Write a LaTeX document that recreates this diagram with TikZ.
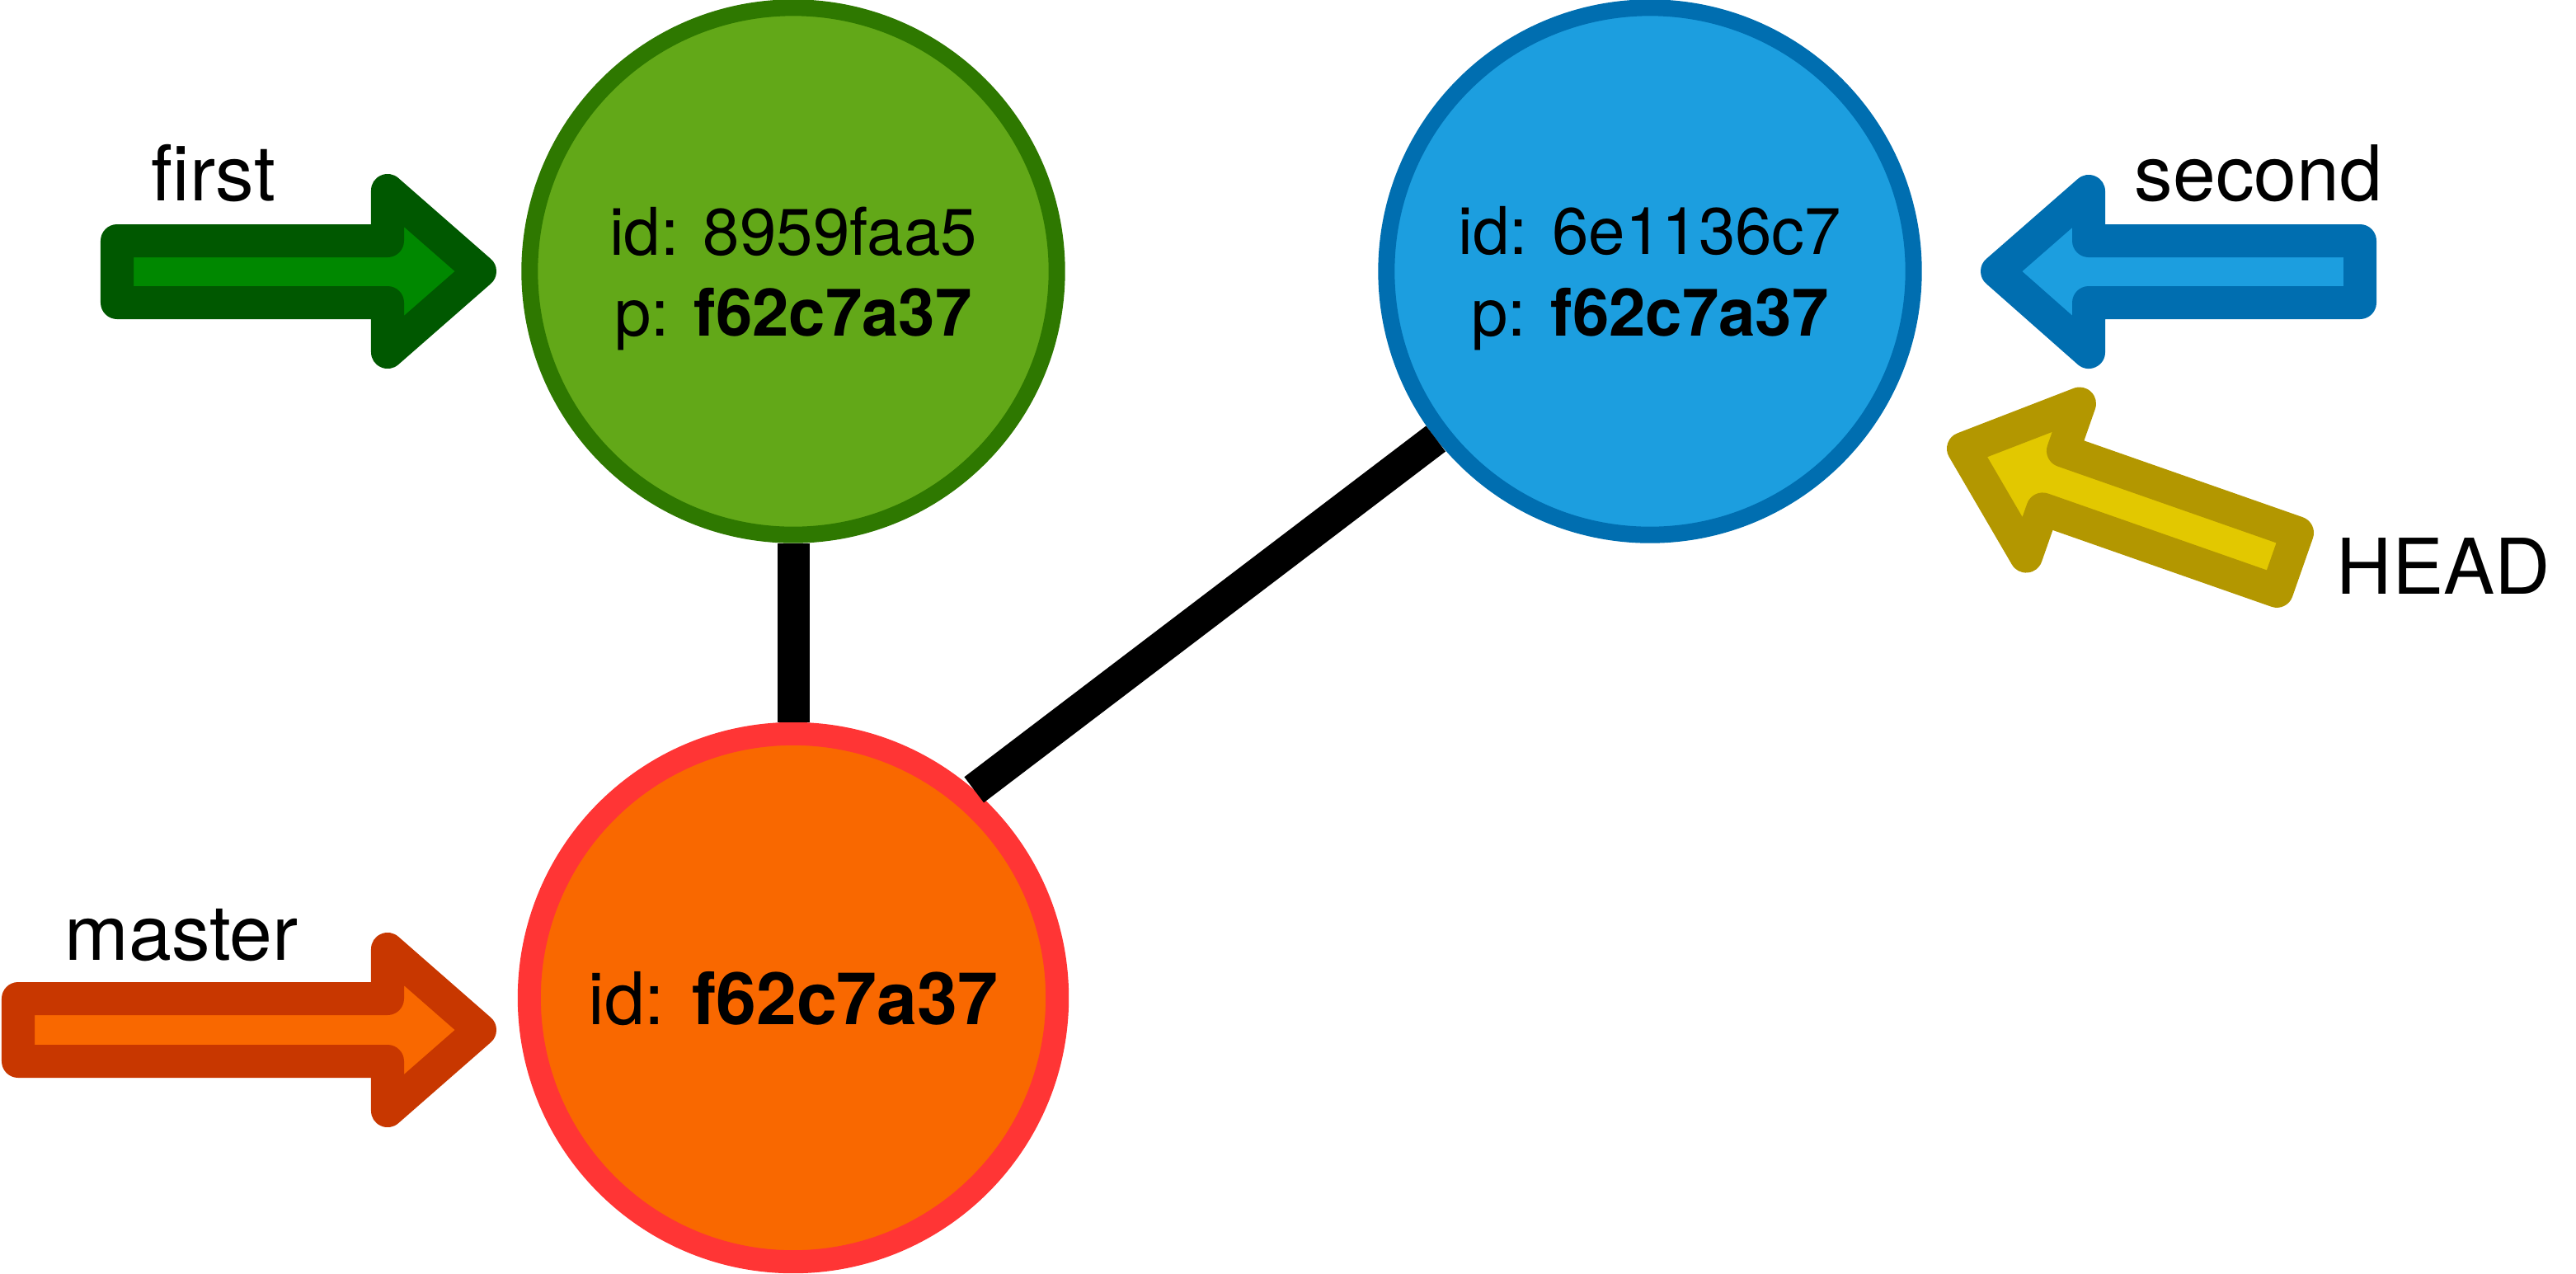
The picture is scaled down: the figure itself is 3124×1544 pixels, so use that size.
\documentclass[tikz,border=0pt]{standalone}
\usepackage{fontspec}
\setmainfont{TeX Gyre Heros}
\definecolor{gfill}{HTML}{62A818}
\definecolor{gline}{HTML}{2E7800}
\definecolor{bfill}{HTML}{1C9EDF}
\definecolor{bline}{HTML}{006EB0}
\definecolor{ofill}{HTML}{F96800}
\definecolor{oline}{HTML}{FF3535}
\definecolor{gafill}{HTML}{008800}
\definecolor{galine}{HTML}{005800}
\definecolor{oaline}{HTML}{C83700}
\definecolor{yafill}{HTML}{E2C800}
\definecolor{yaline}{HTML}{B39700}
\begin{document}
\begin{tikzpicture}[x=0.01cm,y=-0.01cm,
  commit/.style={circle, inner sep=0pt, line width=2mm, align=center, text depth=0pt,
    font=\fontsize{22.7}{28}\selectfont},
  blockarrow/.style={line width=4mm, line join=round},
  lbl/.style={anchor=base west, inner sep=0pt, font=\fontsize{26.5}{30}\selectfont},
  link/.style={line width=3.9mm, draw=black}]
\useasboundingbox (0,0) rectangle (3124,1544);

% commits
\node[commit, draw=oline, fill=ofill, line width=2.8mm, minimum size=6.4cm,
  font=\fontsize{25}{30}\selectfont] (master) at (962,1210) {id: \textbf{f62c7a37}};
\node[commit, draw=gline, fill=gfill, minimum size=6.39cm] (first) at (962,329)
  {id: 8959faa5\\p: \textbf{f62c7a37}};
\node[commit, draw=bline, fill=bfill, minimum size=6.39cm] (second) at (2001,329)
  {id: 6e1136c7\\p: \textbf{f62c7a37}};

% parent links
\draw[link] (first.south) -- (master.north);
\draw[link] (master.49) -- (second.218.6);

% block arrows (ref pointers)
\draw[blockarrow, draw=galine, fill=gafill]
  (142,292) -- (470,292) -- (470,231) -- (582,329) -- (470,427) -- (470,367) -- (142,367) -- cycle;
\draw[blockarrow, draw=oaline, fill=ofill]
  (22,1211) -- (470,1211) -- (470,1151) -- (582,1249) -- (470,1347) -- (470,1287) -- (22,1287) -- cycle;
\draw[blockarrow, draw=bline, fill=bfill]
  (2862,292) -- (2533,292) -- (2533,232) -- (2422,329) -- (2533,427) -- (2533,367) -- (2862,367) -- cycle;
\begin{scope}[shift={(2381,544)}, rotate=-19.3]
\draw[blockarrow, draw=yaline, fill=yafill]
  (0,0) -- (115,-98) -- (115,-37.5) -- (416,-37.5) -- (416,37.5) -- (115,37.5) -- (115,98) -- cycle;
\end{scope}

% labels
\node[lbl] (lfirst) at (183,243) {first};
\node[lbl] (lmaster) at (78,1164) {master};
\node[lbl] (lsecond) at (2588,243) {second};
\node[lbl] (lhead) at (2833,720) {HEAD};
\end{tikzpicture}
\end{document}
